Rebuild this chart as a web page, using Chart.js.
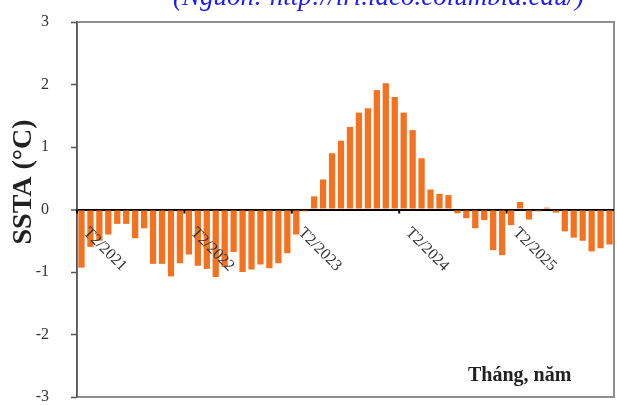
<!DOCTYPE html>
<html><head><meta charset="utf-8">
<script src="https://cdn.jsdelivr.net/npm/chart.js@4.4.0/dist/chart.umd.min.js"></script>
<style>html,body{margin:0;padding:0;background:#fff;} #wrap{position:relative;width:617px;height:405px;overflow:hidden;background:#fff}</style>
</head><body><div id="wrap"><canvas id="c"></canvas></div>
<script>
const categories = [
 "T2/2021","T3/2021","T4/2021","T5/2021","T6/2021","T7/2021","T8/2021","T9/2021","T10/2021","T11/2021","T12/2021","T1/2022",
 "T2/2022","T3/2022","T4/2022","T5/2022","T6/2022","T7/2022","T8/2022","T9/2022","T10/2022","T11/2022","T12/2022","T1/2023",
 "T2/2023","T3/2023","T4/2023","T5/2023","T6/2023","T7/2023","T8/2023","T9/2023","T10/2023","T11/2023","T12/2023","T1/2024",
 "T2/2024","T3/2024","T4/2024","T5/2024","T6/2024","T7/2024","T8/2024","T9/2024","T10/2024","T11/2024","T12/2024","T1/2025",
 "T2/2025","T3/2025","T4/2025","T5/2025","T6/2025","T7/2025","T8/2025","T9/2025","T10/2025","T11/2025","T12/2025","T1/2026"
];
const ssta = [
 -0.93,-0.60,-0.50,-0.40,-0.23,-0.23,-0.46,-0.30,-0.87,-0.87,-1.07,-0.86,
 -0.72,-0.90,-0.95,-1.08,-0.92,-0.68,-1.00,-0.96,-0.88,-0.94,-0.86,-0.70,
 -0.40,-0.03,0.21,0.48,0.90,1.10,1.32,1.55,1.62,1.91,2.02,1.80,
 1.55,1.27,0.82,0.32,0.25,0.23,-0.06,-0.14,-0.30,-0.17,-0.65,-0.73,
 -0.25,0.12,-0.16,-0.03,0.03,-0.05,-0.35,-0.45,-0.50,-0.67,-0.62,-0.56
];
const yTickValues = [-3,-2,-1,0,1,2,3];
const xLabelMonths = ["T2/2021","T2/2022","T2/2023","T2/2024","T2/2025"];
const yTitle = "SSTA (°C)";
const xTitle = "Tháng, năm";
const sourceNote = "(Nguồn: http://iri.ldeo.columbia.edu/)";

const decor = {
  id: 'decor',
  beforeDraw(chart) {
    const {ctx, chartArea: a} = chart;
    ctx.save();
    ctx.fillStyle = '#fff';
    ctx.fillRect(0, 0, chart.width, chart.height);
    ctx.strokeStyle = '#8f8f8f';
    ctx.lineWidth = 2;
    ctx.strokeRect(a.left, a.top, a.right - a.left, a.bottom - a.top);
    ctx.restore();
  },
  afterDraw(chart) {
    const {ctx} = chart;
    const xs = chart.scales.x, ys = chart.scales.y;
    const zeroY = ys.getPixelForValue(0);
    const half = (xs.getPixelForValue(1) - xs.getPixelForValue(0)) / 2;
    ctx.save();
    ctx.font = '16px "Liberation Serif"';
    ctx.fillStyle = '#333';
    ctx.strokeStyle = '#000';
    ctx.lineWidth = 2;
    ctx.textAlign = 'center';
    ctx.textBaseline = 'middle';
    categories.forEach((lab, i) => {
      if (!xLabelMonths.includes(lab)) return;
      const bx = xs.getPixelForValue(i) - half;
      ctx.beginPath();
      ctx.moveTo(bx, zeroY);
      ctx.lineTo(bx, zeroY + 4);
      ctx.stroke();
      ctx.save();
      ctx.translate(bx + 28, zeroY + 40);
      ctx.rotate(Math.PI / 4);
      ctx.fillText(lab, 0, 0);
      ctx.restore();
    });
    ctx.save();
    ctx.font = 'bold 28px "Liberation Serif"';
    ctx.fillStyle = '#222';
    ctx.translate(24, 182);
    ctx.rotate(-Math.PI / 2);
    ctx.fillText(yTitle, 0, 0);
    ctx.restore();
    ctx.font = 'bold 20px "Liberation Serif"';
    ctx.fillStyle = '#222';
    ctx.textAlign = 'left';
    ctx.textBaseline = 'alphabetic';
    ctx.fillText(xTitle, 468, 381);
    ctx.font = 'italic 27px "Liberation Serif"';
    ctx.fillStyle = '#1a1aff';
    ctx.fillText(sourceNote, 173, 5);
    ctx.restore();
  }
};

new Chart(document.getElementById('c'), {
  type: 'bar',
  data: {
    labels: categories,
    datasets: [{
      data: ssta,
      backgroundColor: '#F4711F',
      borderWidth: 0,
      barPercentage: 0.7,
      categoryPercentage: 1.0
    }]
  },
  options: {
    responsive: true,
    maintainAspectRatio: false,
    animation: false,
    layout: {padding: {top: 22, right: 3, bottom: 8, left: 0}},
    plugins: {legend: {display: false}, tooltip: {enabled: false}},
    scales: {
      x: {
        display: false,
        offset: true
      },
      y: {
        min: -3, max: 3,
        afterBuildTicks(scale) { scale.ticks = yTickValues.map(v => ({value: v})); },
        afterFit(scale) { scale.width = 77; scale.paddingTop = 0; scale.paddingBottom = 0; },
        ticks: {
          font: {family: 'Liberation Serif', size: 16, lineHeight: 1},
          color: '#333',
          padding: 22
        },
        grid: {
          drawOnChartArea: true,
          drawTicks: true,
          tickLength: 6,
          tickColor: '#555',
          tickWidth: 1.5,
          color: (c) => (c.tick && c.tick.value === 0 ? '#000' : 'rgba(0,0,0,0)'),
          lineWidth: (c) => (c.tick && c.tick.value === 0 ? 2 : 1)
        },
        border: {display: true, color: '#555', width: 1.5}
      }
    }
  },
  plugins: [decor]
});
</script>
</body></html>
